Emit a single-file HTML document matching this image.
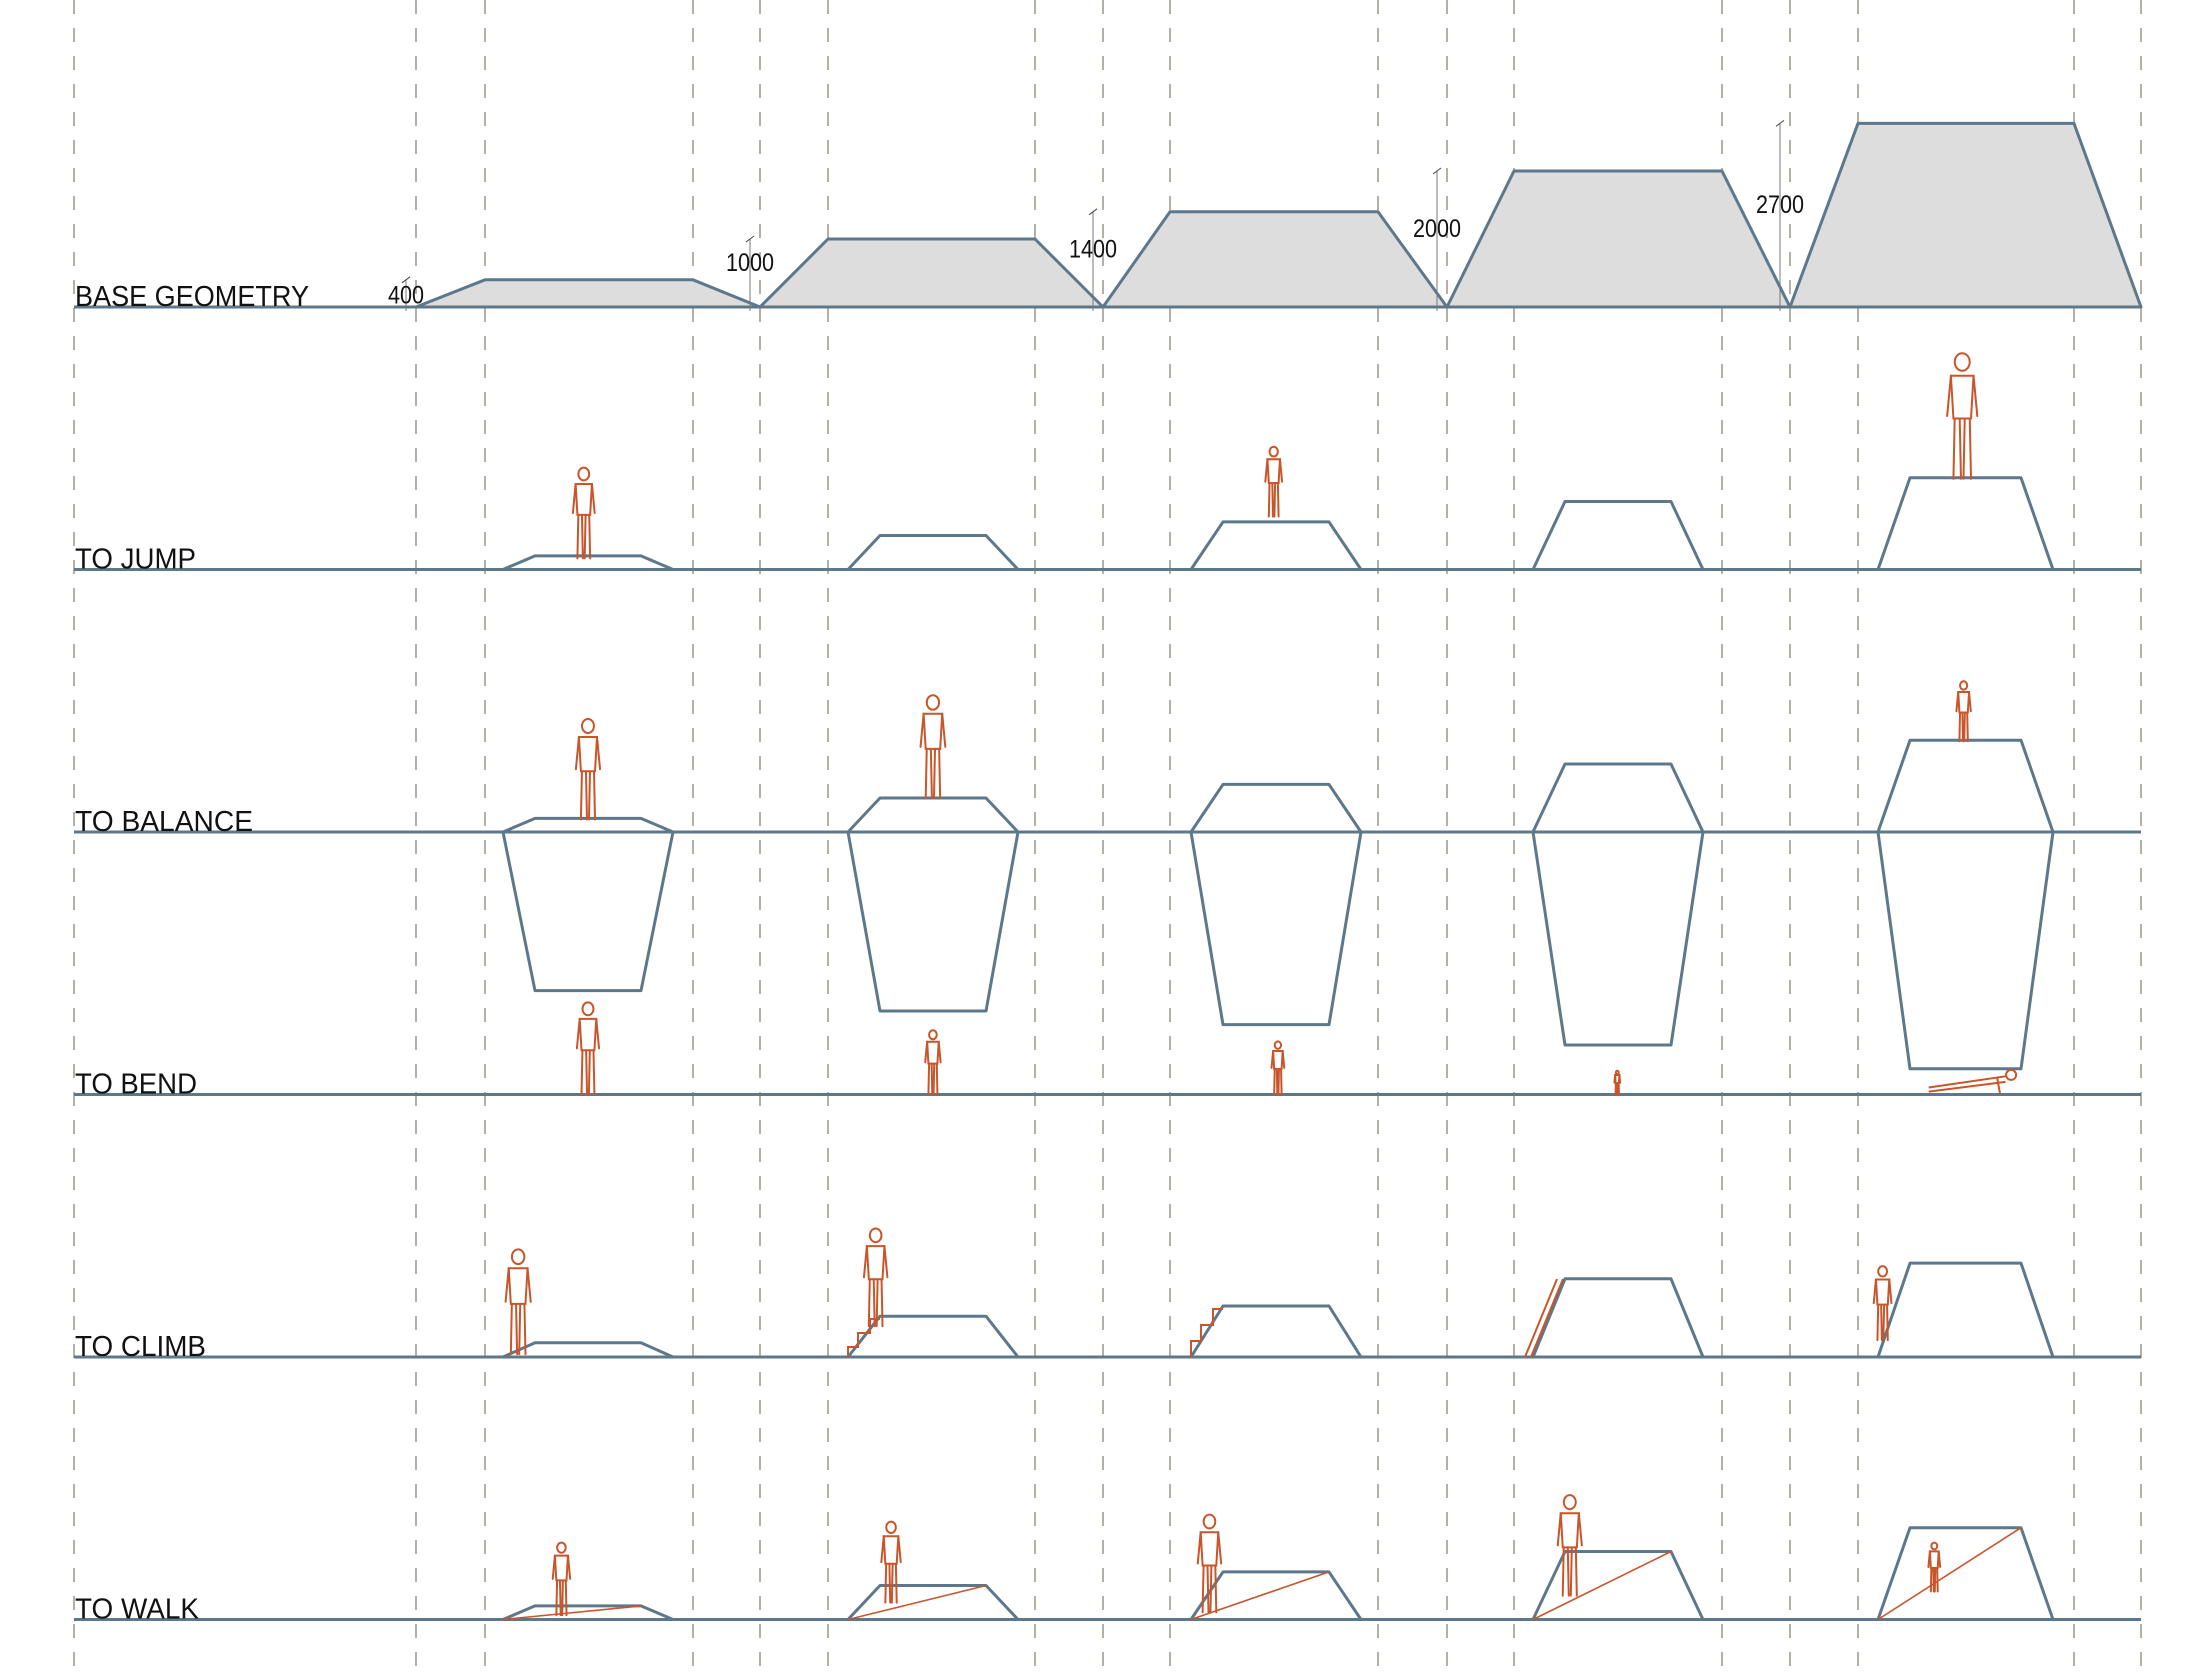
<!DOCTYPE html>
<html><head><meta charset="utf-8"><style>
html,body{margin:0;padding:0;background:#fff;}
svg{display:block;}
text{font-family:"Liberation Sans",sans-serif;fill:#111;}
</style></head>
<body>
<svg id="chart" width="2188" height="1678" viewBox="0 0 2188 1678" xmlns="http://www.w3.org/2000/svg">
<g id="grid"></g><g id="shapes"></g><g id="figs"></g><g id="labels"></g>
</svg>
<script>
// data
const gridLines = [74,416,485,693,760,828,1035,1103,1170,1378,1447,1514,1722,1790,1858,2074,2141];
const heightsMM = [400,1000,1400,2000,2700];
const dimLabels = ["400","1000","1400","2000","2700"];
const rowLabels = ["BASE GEOMETRY","TO JUMP","TO BALANCE","TO BEND","TO CLIMB","TO WALK"];
const climbMM = [420,1200,1500,2300,2760];
const balanceDepthMM = [4265,4265,4265,4265,4265];

const NS="http://www.w3.org/2000/svg";
const LINE="#5d778b", ORANGE="#c9552b", DASH="#a39d90";
const G=id=>document.getElementById(id);
function mk(tag,attrs,parent){const e=document.createElementNS(NS,tag);for(const k in attrs)e.setAttribute(k,attrs[k]);parent.appendChild(e);return e;}
const rowY=i=>307+262.5*i;
const kBase=0.068, kRow=0.034;
const starts=[416,760,1103,1447,1790], ends=[760,1103,1447,1790,2141];
const topL=[485,828,1170,1514,1858];
const topR=[693,1035,1378,1722,2074];
const rowX=[503,848,1191,1533,1878], rowW=[170,170,170,170,175];

gridLines.forEach(x=>{
  const l=mk('line',{x1:x,y1:0,x2:x,y2:1678,stroke:DASH,'stroke-width':1.6,'stroke-dasharray':'14 14'},G('grid'));
  
  
});
const labW=[234,121,178,122,131,124];
rowLabels.forEach((t,i)=>{
  const y=rowY(i);
  const b=mk('line',{x1:74,y1:y,x2:2141,y2:y,stroke:LINE,'stroke-width':3},G('shapes'));
  
  
  const tx=mk('text',{x:75,y:y-1,'font-size':29,textLength:labW[i],lengthAdjust:'spacingAndGlyphs'},G('labels'));
  tx.textContent=t;
  
  
});
heightsMM.forEach((h,i)=>{
  const y0=rowY(0), yt=y0-h*kBase, s=starts[i];
  const p=mk('polygon',{points:`${s},${y0} ${topL[i]},${yt} ${topR[i]},${yt} ${ends[i]},${y0}`,fill:'#dddddd',stroke:LINE,'stroke-width':3,'stroke-linejoin':'round'},G('shapes'));
  
  
  const dx=s-10;
  const d=mk('line',{x1:dx,y1:yt,x2:dx,y2:y0+4,stroke:'#777','stroke-width':1},G('shapes'));
  
  
  mk('line',{x1:dx-4,y1:yt+3,x2:dx+4,y2:yt-3,stroke:'#444','stroke-width':1},G('shapes'));
  const tx=mk('text',{x:dx,y:y0-h*kBase*0.5+(i==0?10:-2),'font-size':25,'text-anchor':'middle',textLength:dimLabels[i].length*12,lengthAdjust:'spacingAndGlyphs'},G('labels'));
  tx.textContent=dimLabels[i];
  
  
});
function trap(i,row,hmm){
  const y0=rowY(row), x=rowX[i], w=rowW[i], yt=y0-hmm*kRow;
  const p=mk('polygon',{points:`${x},${y0} ${x+32},${yt} ${x+w-32},${yt} ${x+w},${y0}`,fill:'none',stroke:LINE,'stroke-width':3,'stroke-linejoin':'round'},G('shapes'));
  
  
  return yt;
}
heightsMM.forEach((h,i)=>{
  trap(i,1,h);
  trap(i,2,h);
  const y0=rowY(2), x=rowX[i], w=rowW[i], yb=y0+(balanceDepthMM[i]+h)*kRow;
  const p=mk('polygon',{points:`${x},${y0} ${x+w},${y0} ${x+w-32},${yb} ${x+32},${yb}`,fill:'none',stroke:LINE,'stroke-width':3,'stroke-linejoin':'round'},G('shapes'));
  
  
  trap(i,4,climbMM[i]);
  const yt=trap(i,5,h);
  const r=mk('line',{x1:x,y1:rowY(5),x2:x+w-32,y2:yt,stroke:ORANGE,'stroke-width':1.6},G('shapes'));
  
  
});
function person(cx,top,bot,name){
  const g=mk('g',{stroke:ORANGE,'stroke-width':2,fill:'none','stroke-linecap':'round'},G('figs'));
  
  
  const h=bot-top, r=h*0.07;
  mk('ellipse',{cx:cx,cy:top+r,rx:r*0.85,ry:r},g);
  const sh=top+h*0.18, hip=top+h*0.52;
  mk('path',{d:`M${cx-h*0.09},${sh} L${cx+h*0.09},${sh} L${cx+h*0.07},${hip} L${cx-h*0.07},${hip} Z`},g);
  mk('path',{d:`M${cx-h*0.09},${sh} L${cx-h*0.12},${top+h*0.5} M${cx+h*0.09},${sh} L${cx+h*0.12},${top+h*0.5}`},g);
  mk('path',{d:`M${cx-h*0.06},${hip} L${cx-h*0.07},${bot} M${cx+h*0.06},${hip} L${cx+h*0.07},${bot} M${cx-h*0.02},${hip} L${cx-h*0.01},${bot} M${cx+h*0.02},${hip} L${cx+h*0.01},${bot}`},g);
}
const fx=v=>v*1.3966, fy=v=>v*1.396;
const figs=[
 [418,335,400],[912,320,370],[1405,253,343],
 [421,515,587],[668,498,572],[1406,488,531],
 [421,718,784],[668,738,784],[915,746,784],[1158,767,784],
 [371,895,970],[627,880,950],[1348,907,960],
 [402,1105,1157],[638,1090,1148],[866,1085,1155],[1124,1071,1143],[1385,1105,1140]
];
figs.forEach(f=>person(fx(f[0]),fy(f[1]),fy(f[2]),'person-figure'));
const pu=mk('path',{d:`M${fx(1381)},${fy(782)} L${fx(1436)},${fy(775)} M${fx(1381)},${fy(779)} L${fx(1436)},${fy(771)} M${fx(1430)},${fy(772)} L${fx(1432)},${fy(783)}`,stroke:ORANGE,'stroke-width':2,fill:'none'},G('figs'));


mk('circle',{cx:fx(1440),cy:fy(770),r:5,stroke:ORANGE,'stroke-width':2,fill:'none'},G('figs'));
const y4=rowY(4);
const st=mk('path',{d:`M${rowX[1]},${y4} v-10 h10 v-14 h12 v-14 h10 M${rowX[2]},${y4} v-16 h10 v-16 h12 v-16 h10`,stroke:ORANGE,'stroke-width':2,fill:'none'},G('figs'));


const ld=mk('path',{d:`M${rowX[3]-8},${y4} L${rowX[3]+24},${y4-78} M${rowX[3]-2},${y4} L${rowX[3]+30},${y4-78}`,stroke:ORANGE,'stroke-width':2,fill:'none'},G('figs'));


</script>
</body></html>
